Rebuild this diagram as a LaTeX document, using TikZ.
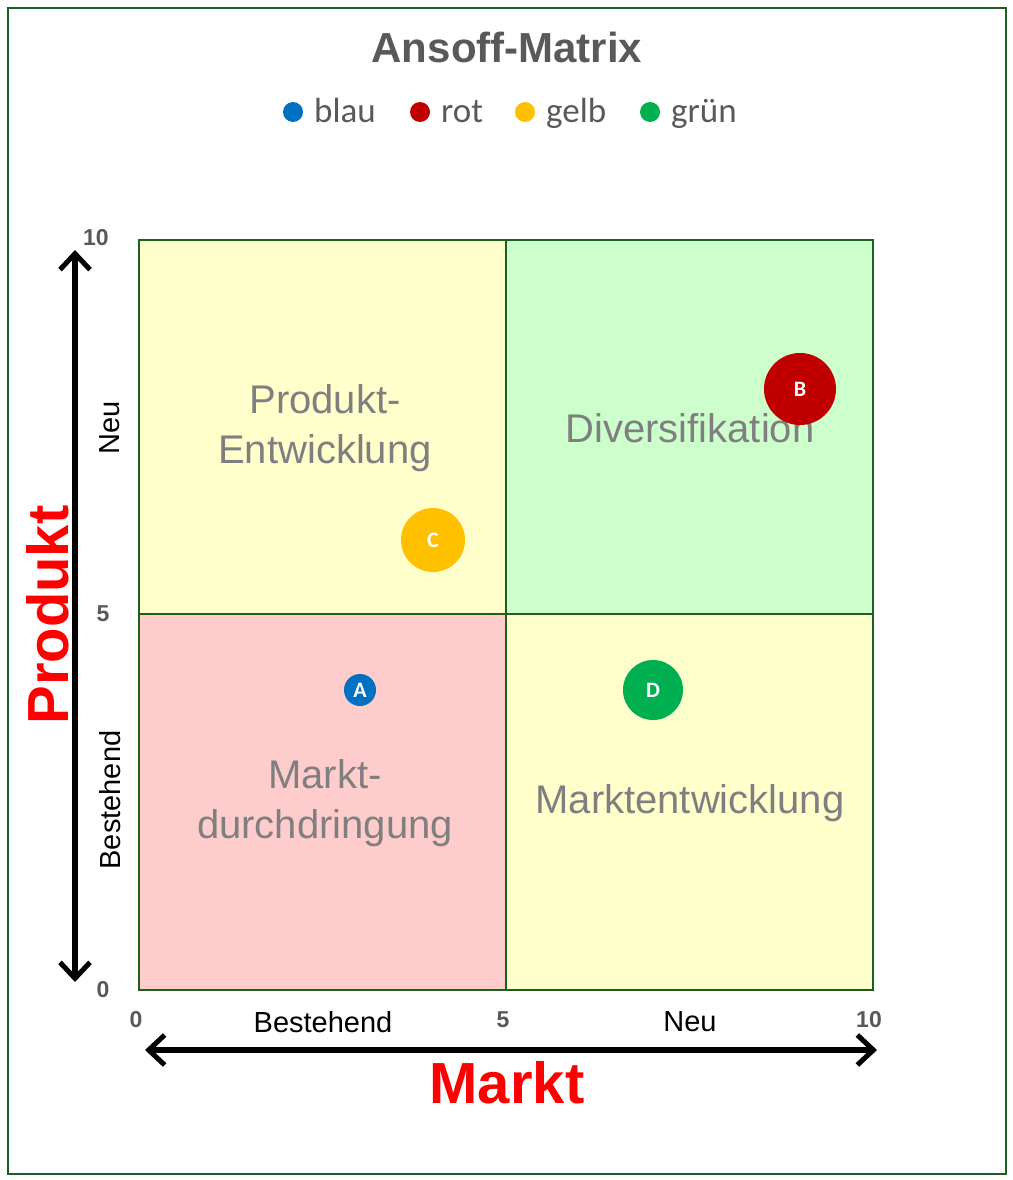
\documentclass[tikz,border=0pt]{standalone}
\usepackage{fontspec}
\setmainfont{Liberation Sans}
\newfontfamily\carfont{Carlito}
\usetikzlibrary{arrows.meta}
\definecolor{pinkq}{HTML}{FFCCCC}
\definecolor{yelq}{HTML}{FFFFCC}
\definecolor{grnq}{HTML}{CCFFCC}
\definecolor{frame}{HTML}{1E5E1E}
\definecolor{txtg}{HTML}{7F7F7F}
\definecolor{titg}{HTML}{595959}
\definecolor{cblue}{HTML}{0070C0}
\definecolor{cred}{HTML}{C00000}
\definecolor{cyel}{HTML}{FFC000}
\definecolor{cgrn}{HTML}{00B050}
\begin{document}
\begin{tikzpicture}[x=1pt,y=-1pt,
  quad/.style={font=\fontsize{40}{50}\selectfont,text=txtg,align=center},
  tick/.style={font=\bfseries\fontsize{23}{26}\selectfont,text=titg},
  axl/.style={font=\fontsize{29}{32}\selectfont},
  bub/.style={circle,inner sep=0pt,text=white,font=\carfont\bfseries\fontsize{22}{24}\selectfont},
  leg/.style={font=\carfont\fontsize{35}{38}\selectfont,text=titg,anchor=base west,inner sep=0pt},
  arr/.style={line width=6pt,{Straight Barb[length=16pt,width=30pt,line width=5pt]}-{Straight Barb[length=16pt,width=30pt,line width=5pt]}},
  big/.style={font=\bfseries\fontsize{58}{64}\selectfont,text=red}]
\useasboundingbox (0,0) rectangle (1012,1180);
\fill[white] (0,0) rectangle (1012,1180);
\draw[frame,line width=1.5pt] (8,8) rectangle (1006,1174);
\fill[yelq] (139,240) rectangle (506,614);
\fill[grnq] (506,240) rectangle (873,614);
\fill[pinkq] (139,614) rectangle (506,990);
\fill[yelq] (506,614) rectangle (873,990);
\draw[frame,line width=2pt] (139,240) rectangle (873,990) (506,240) -- (506,990) (139,614) -- (873,614);
\node[font=\bfseries\fontsize{42}{48}\selectfont,text=titg] (title) at (507,47) {Ansoff-Matrix};
\fill[cblue] (293,112) circle (10); \node[leg] (l1) at (314,123) {blau};
\fill[cred] (420,112) circle (10); \node[leg] (l2) at (441,123) {rot};
\fill[cyel] (525,112) circle (10); \node[leg] (l3) at (546,123) {gelb};
\fill[cgrn] (650,112) circle (10); \node[leg] (l4) at (671,123) {grün};
\node[quad] (q1) at (325,428) {Produkt-\\Entwicklung};
\node[quad] (q2) at (690,428) {Diversifikation};
\node[quad] (q3) at (325,803) {Markt-\\durchdringung};
\node[quad] (q4) at (690,803) {Marktentwicklung};
\node[bub,fill=cblue,minimum size=32pt] (A) at (360,690) {A};
\node[bub,fill=cred,minimum size=72pt] (B) at (800,389) {B};
\node[bub,fill=cyel,minimum size=64pt] (C) at (433,540) {C};
\node[bub,fill=cgrn,minimum size=60pt] (D) at (653,690) {D};
\node[tick] (t10) at (96,238) {10};
\node[tick] (t5) at (103,614) {5};
\node[tick] (t0) at (103,990) {0};
\node[tick] (b0) at (136,1020) {0};
\node[tick] (b5) at (503,1020) {5};
\node[tick] (b10) at (869,1020) {10};
\coordinate (vt) at (75,250); \coordinate (vb) at (75,982);
\draw[arr] (vt) -- (vb);
\coordinate (hl) at (145,1050); \coordinate (hr) at (877,1050);
\draw[arr] (hl) -- (hr);
\node[axl,rotate=90] (n1) at (110,428) {Neu};
\node[axl,rotate=90] (n2) at (110,800) {Bestehend};
\node[axl] (n3) at (323,1022) {Bestehend};
\node[axl] (n4) at (690,1022) {Neu};
\node[big,rotate=90] (P) at (48,615) {Produkt};
\node[big] (M) at (507,1083) {Markt};
\end{tikzpicture}
\end{document}
